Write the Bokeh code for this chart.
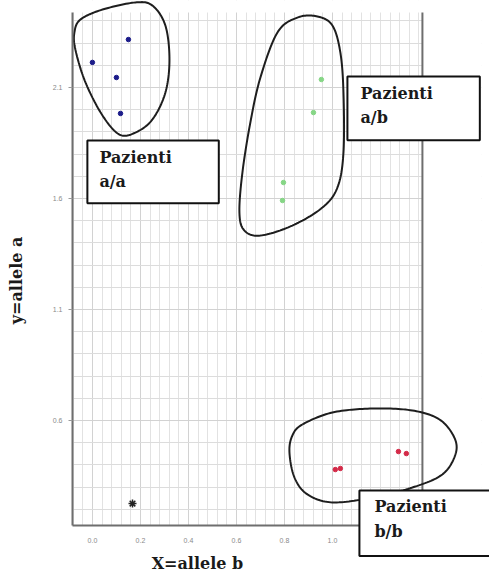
import numpy as np
from bokeh.plotting import figure
from bokeh.models import Range1d, FixedTicker, PrintfTickFormatter, Label
from bokeh.embed import file_html
from bokeh.resources import INLINE

# ---------------- data ----------------
aa_x = [0.150, 0.000, 0.100, 0.117]
aa_y = [2.316, 2.213, 2.145, 1.983]
ab_x = [0.954, 0.921, 0.796, 0.792]
ab_y = [2.136, 1.987, 1.672, 1.591]
bb_x = [1.012, 1.033, 1.275, 1.308]
bb_y = [0.379, 0.384, 0.460, 0.451]
ctrl_x = [0.167]
ctrl_y = [0.226]

x_ticks = [0.0, 0.2, 0.4, 0.6, 0.8, 1.0]
y_ticks = [0.6, 1.1, 1.6, 2.1]
group_labels = ["Pazienti\na/a", "Pazienti\na/b", "Pazienti\nb/b"]
x_title = "X=allele b"
y_title = "y=allele a"

# visible plot region (data units)
X0, X1 = -0.083, 1.375
Y0, Y1 = 0.127, 2.438

# ---------------- figure ----------------
# frame is larger than the gridded region so the hand drawn shapes fit
XE = X0 + 409 / 240
YE = Y0 + 525 / 222
p = figure(frame_width=409, frame_height=525,
           min_border_left=72, min_border_right=0,
           min_border_top=0, min_border_bottom=54,
           x_range=Range1d(X0, XE), y_range=Range1d(Y0, YE),
           output_backend="svg", toolbar_location=None)
p.background_fill_color = "white"
p.border_fill_color = "white"
p.outline_line_color = None

p.xaxis.ticker = FixedTicker(ticks=x_ticks,
                             minor_ticks=list(np.round(np.arange(-0.08, 1.38, 0.04), 3)))
p.yaxis.ticker = FixedTicker(ticks=y_ticks,
                             minor_ticks=list(np.round(np.arange(0.2, 2.45, 0.1), 3)))
p.xaxis.formatter = PrintfTickFormatter(format="%.1f")
p.yaxis.formatter = PrintfTickFormatter(format="%.1f")
p.xaxis.bounds = (X0, X1)
p.yaxis.bounds = (Y0, Y1)

for ax in (p.xaxis, p.yaxis):
    ax.axis_line_color = "#6e6e6e"
    ax.axis_line_width = 2
    ax.major_tick_line_color = "#9a9a9a"
    ax.major_tick_in = 0
    ax.major_tick_out = 4
    ax.minor_tick_line_color = None
    ax.major_label_text_font = "Liberation Sans"
    ax.major_label_text_font_size = "7px"
    ax.major_label_text_color = "#8a8a8a"
p.xaxis.major_tick_line_color = None
p.xaxis.major_label_standoff = 8
p.yaxis.major_label_standoff = 6

p.xgrid.grid_line_color = "#d2d2d2"
p.ygrid.grid_line_color = "#d2d2d2"
p.xgrid.minor_grid_line_color = "#e2e2e2"
p.ygrid.minor_grid_line_color = "#dcdcdc"

# ---------------- masks (hide grid outside the plot region) & right border ----------------
p.quad(left=[X1], right=[XE + 0.1], bottom=[Y0 - 0.1], top=[YE + 0.1],
       fill_color="white", line_color=None)
p.quad(left=[X0 - 0.1], right=[XE + 0.1], bottom=[Y1], top=[YE + 0.1],
       fill_color="white", line_color=None)
p.segment(x0=[X1], y0=[Y0], x1=[X1], y1=[Y1], line_color="#6e6e6e", line_width=2)

# ---------------- points ----------------
p.scatter(aa_x, aa_y, size=4.5, color="#1c1c8a")
p.scatter(ab_x, ab_y, size=4.5, color="#86d686")
p.scatter(bb_x, bb_y, size=4.5, color="#d42a48")
p.scatter(ctrl_x, ctrl_y, marker="asterisk", size=8, line_color="#222222", line_width=1.5)

# ---------------- hand drawn outlines ----------------
def smooth_closed(pts, n=16):
    pts = np.asarray(pts, dtype=float)
    m = len(pts)
    out = []
    for i in range(m + 1):
        if i == m:
            out.append(out[0])
            break
        p0, p1, p2, p3 = pts[(i - 1) % m], pts[i], pts[(i + 1) % m], pts[(i + 2) % m]
        for t in np.linspace(0, 1, n, endpoint=False):
            t2, t3 = t * t, t * t * t
            out.append(0.5 * ((2 * p1) + (-p0 + p2) * t +
                              (2 * p0 - 5 * p1 + 4 * p2 - p3) * t2 +
                              (-p0 + 3 * p1 - 3 * p2 + p3) * t3))
    out = np.array(out)
    return list(out[:, 0]), list(out[:, 1])

blob_aa = [(0.179, 2.483), (0.25, 2.469), (0.304, 2.379), (0.321, 2.226),
           (0.304, 2.077), (0.25, 1.956), (0.179, 1.897), (0.1125, 1.888),
           (0.042, 1.974), (-0.029, 2.123), (-0.071, 2.271), (-0.075, 2.348),
           (-0.05, 2.406), (0.042, 2.451)]
blob_ab = [(0.771, 2.348), (0.854, 2.415), (0.9375, 2.42), (1.0, 2.379),
           (1.033, 2.258), (1.046, 2.077), (1.046, 1.807), (1.021, 1.65),
           (0.958, 1.559), (0.833, 1.478), (0.7, 1.433), (0.633, 1.456),
           (0.6125, 1.537), (0.625, 1.717), (0.658, 1.942), (0.7, 2.145)]
blob_bb = [(0.875, 0.582), (1.0, 0.636), (1.167, 0.654), (1.333, 0.645),
           (1.446, 0.6045), (1.508, 0.523), (1.5125, 0.447), (1.458, 0.357),
           (1.333, 0.298), (1.167, 0.253), (1.0, 0.231), (0.896, 0.267),
           (0.842, 0.343), (0.821, 0.456), (0.833, 0.532)]

for blob in (blob_aa, blob_ab, blob_bb):
    xs, ys = smooth_closed(blob)
    p.line(xs, ys, line_color="#1e1e1e", line_width=2)

# ---------------- label boxes (unclipped labels in a side panel) ----------------
SIDE = "right"
box_pos = [(-0.021, 1.861), (1.0625, 2.1495), (1.1125, 0.285)]
box_pad = [dict(left=12, right=47, top=7, bottom=12),
           dict(left=13, right=47, top=7, bottom=13),
           dict(left=15, right=45, top=7, bottom=15)]

for (bx, by), pad, lab in zip(box_pos, box_pad, group_labels):
    p.add_layout(Label(x=bx, y=by, text=lab, text_font="DejaVu Serif",
                       text_font_style="bold", text_font_size="16px",
                       text_color="#1a1a1a", text_baseline="top",
                       text_align="left", text_line_height=1.3,
                       padding=pad, background_fill_color="white",
                       background_fill_alpha=1, border_line_color="#111111",
                       border_line_width=2, border_line_alpha=1), SIDE)

# ---------------- axis titles ----------------
p.add_layout(Label(x=0.4375, y=-0.044, text=x_title, text_font="DejaVu Serif",
                   text_font_style="bold", text_font_size="16px",
                   text_color="#1a1a1a", text_align="center",
                   text_baseline="middle"), SIDE)
p.add_layout(Label(x=-0.317, y=1.231, text=y_title, text_font="DejaVu Serif",
                   text_font_style="bold", text_font_size="16px",
                   text_color="#1a1a1a", text_align="center",
                   text_baseline="middle", angle=np.pi / 2), SIDE)

open("out.html", "w").write(file_html(p, INLINE))
